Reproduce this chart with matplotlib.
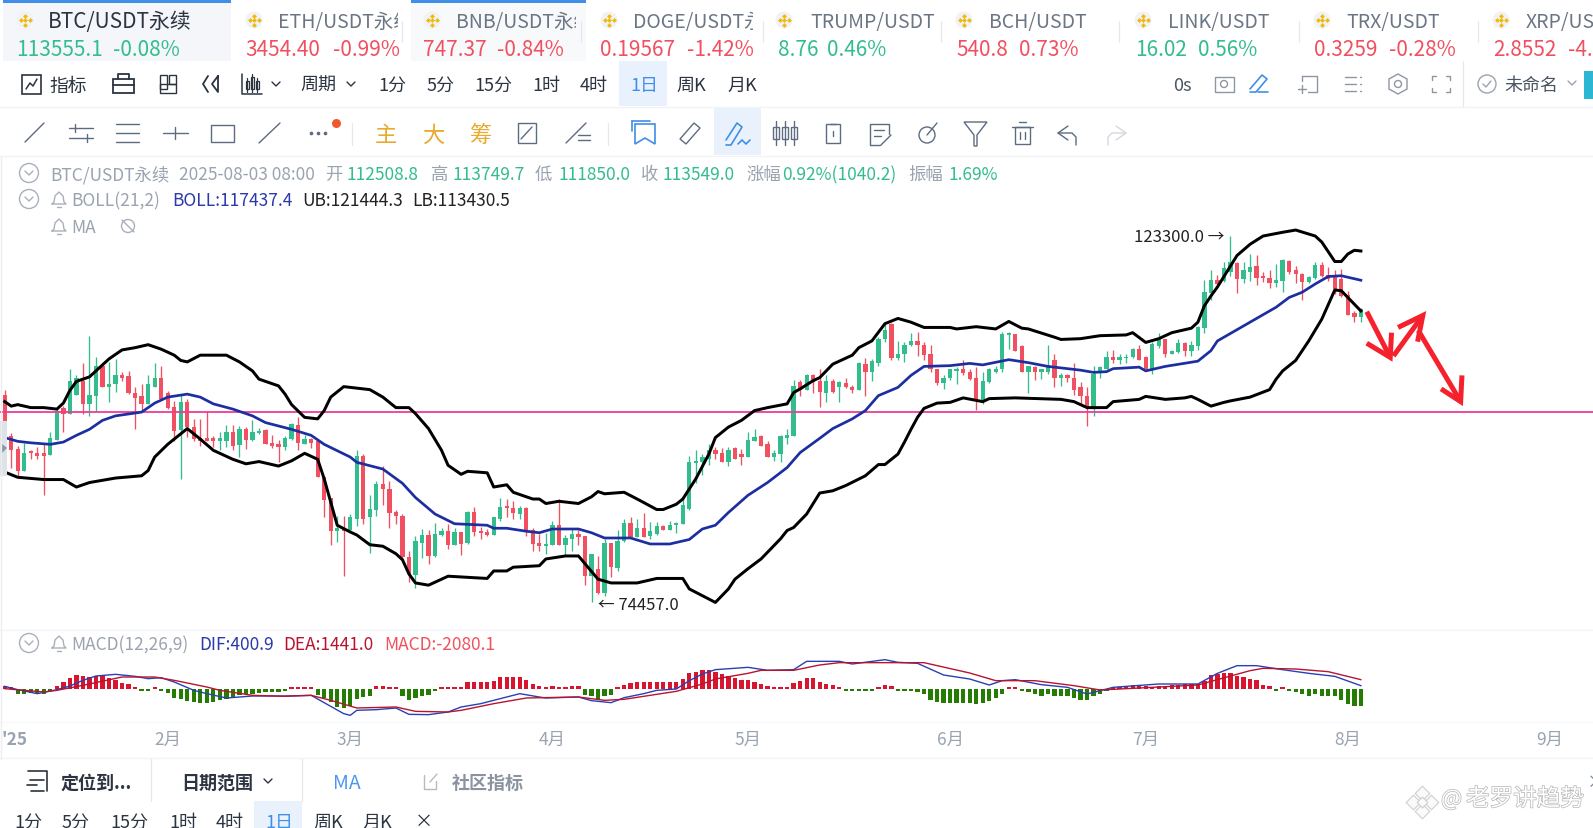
# plot.py
# BTC/USDT daily chart with BOLL and MACD, rebuilt in matplotlib
import matplotlib
matplotlib.use("Agg")
import matplotlib.pyplot as plt
import matplotlib.patheffects as pe
from matplotlib.patches import Rectangle, Circle, Polygon

plt.rcParams['font.family'] = ['Noto Sans CJK SC', 'DejaVu Sans']

# ---- CANDLES (thousand USDT, one per day from 7 Jan) ----
opens = [102.1,96.6,94.9,92.0,94.6,94.4,94.4,94.1,96.1,100.3,
         99.6,102.1,104.0,100.9,102.0,106.0,103.2,103.5,104.8,104.6,
         102.4,101.9,100.9,103.2,104.4,102.3,100.5,97.4,101.1,97.8,
         96.3,96.3,96.4,96.0,96.0,97.2,95.4,97.6,96.1,97.0,
         97.4,95.7,95.5,95.1,96.2,98.1,95.6,96.2,96.0,91.1,
         88.3,83.9,84.3,84.0,85.5,94.0,85.8,86.8,90.2,89.6,
         86.5,85.9,80.4,78.1,82.3,83.4,80.6,83.4,83.9,82.0,
         83.8,82.3,86.5,83.9,83.8,83.4,85.6,87.3,87.0,86.2,
         87.0,84.1,82.3,81.9,82.0,84.7,82.0,82.8,83.5,83.3,
         77.9,78.8,75.7,82.3,79.0,82.6,85.0,83.1,84.3,83.2,
         83.5,84.6,84.0,84.7,84.8,86.9,93.0,93.2,93.6,94.7,
         94.4,93.2,95.0,94.2,93.8,96.0,96.6,95.5,93.8,94.2,
         96.4,96.6,103.8,102.7,104.7,103.9,102.4,104.0,103.1,103.7,
         103.2,102.7,106.2,105.2,106.4,109.5,111.6,107.0,107.6,108.7,
         109.3,108.8,107.6,105.5,103.7,104.3,105.3,105.6,105.2,104.4,
         101.3,103.8,105.2,105.5,110.1,110.2,108.6,105.2,105.8,105.1,
         105.2,106.7,104.3,104.7,104.4,103.1,101.9,100.4,105.3,105.6,
         107.2,106.7,107.0,107.1,108.2,107.1,105.6,108.6,109.5,107.6,
         107.8,109.0,108.0,108.6,111.0,115.7,117.4,117.3,118.5,119.7,
         117.5,118.5,119.3,118.0,117.7,117.0,117.3,120.0,118.7,118.2,
         117.2,117.7,119.4,118.1,117.8,117.6,115.4,113.0,112.5]
closes = [96.7,94.7,92.0,94.4,94.3,94.0,94.0,96.3,99.9,99.5,
          103.9,104.4,100.9,102.1,106.0,103.2,103.6,104.7,104.3,102.4,
          101.7,100.9,103.5,104.4,101.5,100.3,97.3,101.1,97.8,96.2,
          96.0,96.0,96.0,96.4,97.2,95.3,97.6,96.1,97.1,97.3,
          95.6,95.3,95.1,96.3,98.2,95.7,96.2,95.7,91.1,88.1,
          83.9,84.3,83.9,85.8,94.0,85.5,86.9,90.2,89.5,86.3,
          85.9,80.4,78.2,82.6,83.4,80.6,83.5,83.9,82.0,83.8,
          82.2,86.5,83.8,83.6,83.4,85.8,87.1,87.0,86.3,87.0,
          84.0,82.2,81.9,82.2,84.7,82.0,83.0,83.5,83.1,77.9,
          80.9,75.7,82.3,79.1,82.6,85.0,83.1,84.3,83.1,83.9,
          84.6,84.0,84.7,85.0,87.4,93.2,93.3,93.8,94.8,94.2,
          93.2,94.8,93.6,93.8,96.1,96.5,95.3,93.8,94.3,96.6,
          96.7,103.3,102.8,104.7,103.8,102.5,103.9,102.5,103.8,103.1,
          102.7,106.4,105.2,106.6,109.6,110.7,107.0,107.6,108.8,109.3,
          108.7,107.4,105.6,103.7,104.4,105.5,105.6,105.0,104.2,101.3,
          104.0,105.6,105.6,110.2,110.4,108.0,105.2,105.9,105.1,105.5,
          106.0,104.3,104.7,104.3,102.8,102.0,100.4,104.9,105.8,107.2,
          106.7,107.1,107.2,108.2,106.8,105.5,108.9,109.5,107.6,107.9,
          109.0,107.9,108.8,111.1,115.8,117.4,116.9,119.0,119.8,117.5,
          118.7,119.2,117.7,117.7,117.0,117.4,120.1,118.5,118.2,117.2,
          117.8,119.4,117.9,117.6,116.2,115.3,112.8,112.5,113.5]
highs = [102.7,97.0,95.3,95.7,94.8,95.2,95.5,97.1,100.3,100.6,
         105.6,104.8,106.3,109.9,107.1,106.2,106.5,106.9,105.1,105.3,
         103.1,103.6,104.7,106.3,105.9,102.6,101.3,102.2,101.5,98.9,
         98.9,99.9,96.6,97.1,98.1,98.1,97.9,97.8,98.7,97.7,
         97.5,96.7,96.1,96.6,98.4,99.2,96.7,96.4,96.2,91.2,
         88.4,86.0,86.0,86.2,94.8,94.2,88.7,90.6,92.6,90.6,
         86.7,86.2,81.3,83.3,84.2,84.0,85.0,84.3,84.9,84.3,
         83.8,86.6,87.2,84.4,84.2,85.8,88.4,88.2,88.0,87.3,
         87.1,84.3,83.5,83.7,85.3,88.2,83.4,84.3,84.0,83.3,
         80.9,80.6,82.8,82.3,84.0,85.5,85.8,85.5,86.3,85.2,
         85.1,84.7,85.3,85.1,88.4,94.0,94.7,94.2,95.5,95.1,
         95.0,95.2,95.2,94.9,97.2,97.6,96.7,96.0,94.7,96.7,
         97.6,104.1,104.1,104.9,104.9,105.6,104.7,104.2,104.0,104.3,
         103.4,106.5,107.0,106.9,109.8,111.8,111.7,109.3,109.2,110.4,
         110.5,109.1,108.8,105.6,104.7,105.6,105.8,106.7,105.6,105.8,
         105.1,105.7,106.0,110.5,110.5,110.2,108.7,105.9,105.9,105.6,
         108.7,107.6,105.0,104.9,106.4,103.8,103.1,105.9,106.0,108.0,
         108.1,107.6,107.6,108.4,108.7,107.3,109.2,110.4,109.6,108.1,
         109.5,109.2,109.3,111.3,117.4,118.8,118.1,119.8,123.3,119.8,
         119.8,120.9,120.8,118.5,118.8,119.6,120.3,120.1,119.3,118.3,
         118.0,119.8,119.8,119.1,118.8,118.9,116.0,113.3,113.7]
lows = [96.5,92.3,91.3,92.0,93.6,93.5,88.7,94.1,96.1,97.1,
        99.6,102.1,99.6,99.3,100.0,103.1,101.1,102.5,103.9,102.2,
        97.5,99.8,100.9,103.1,101.5,100.2,96.0,90.9,96.5,95.9,
        95.3,95.9,95.1,94.7,95.1,94.7,93.8,94.9,96.0,96.9,
        95.5,95.0,93.1,94.8,96.1,94.7,95.5,95.0,91.1,85.8,
        82.0,82.4,77.9,83.9,84.6,84.9,81.0,86.0,87.4,84.3,
        84.9,80.2,77.1,76.3,80.3,79.5,80.4,83.3,81.5,82.0,
        80.7,82.2,83.3,82.9,83.2,83.4,85.3,85.8,85.5,85.5,
        83.3,81.3,81.2,80.9,82.0,82.0,80.7,81.3,82.0,76.7,
        74.457,75.5,75.3,77.8,78.6,82.5,83.1,83.1,83.1,82.8,
        83.4,84.0,84.0,83.7,84.8,86.8,90.4,91.4,92.7,93.6,
        93.2,92.6,93.5,92.7,93.8,95.9,95.3,93.8,93.3,93.1,
        95.5,96.6,102.0,102.7,102.4,100.5,101.1,102.4,101.2,103.0,
        102.3,102.7,101.9,104.0,105.9,109.2,106.7,106.8,106.5,108.6,
        107.3,106.7,105.1,103.4,102.9,104.1,103.6,104.8,104.1,100.1,
        100.9,103.7,105.0,105.2,108.2,108.0,105.2,102.4,104.1,104.2,
        104.9,103.1,103.3,103.8,102.1,100.9,98.0,99.3,104.4,105.6,
        106.4,106.2,106.4,107.0,106.7,105.5,104.9,108.4,107.1,107.6,
        107.7,107.3,107.3,108.1,110.3,114.7,116.8,117.2,118.0,115.7,
        117.0,117.3,116.8,117.2,116.4,116.5,115.8,118.2,117.0,114.7,
        117.0,117.6,117.8,117.3,115.6,115.1,112.7,111.8,111.85]

# ---- BOLL BANDS (read at these candle numbers) ----
upper_idx = [0,1,2,4,6,8,9,10,11,13,15,16,18,20,22,24,26,27,28,30,34,36,38,39,42,43,44,46,48,49,
             50,52,53,56,58,60,62,63,65,67,68,70,71,74,75,77,78,81,82,83,85,88,90,91,92,95,97,100,101,103,
             104,106,108,109,111,113,115,117,120,121,122,124,125,127,130,131,133,135,137,139,141,145,146,149,152,154,156,157,161,162,
             165,168,172,173,175,177,179,182,183,184,185,186,188,189,191,193,196,198,201,202,204,205,206,207,208]
upper_vals = [101.2,100.6,100.8,100.4,100.4,100.2,101.0,102.7,103.9,104.5,106.1,106.9,108.1,108.4,108.8,108.2,107.4,106.7,106.5,107.4,107.4,106.5,105.3,104.2,103.3,102.2,100.8,99.1,98.9,100.0,
              101.8,103.2,103.1,102.8,101.8,100.4,100.4,99.6,97.6,94.7,92.7,91.5,91.9,91.7,89.8,90.1,89.1,88.2,88.2,87.6,87.9,87.6,88.5,89.2,88.9,89.1,88.2,86.8,86.8,87.5,
              88.2,90.9,94.2,96.4,97.8,98.7,100.0,100.4,100.9,102.4,102.9,104.0,104.4,106.2,107.4,108.4,109.3,111.6,112.3,111.8,111.1,111.1,110.9,111.2,110.9,111.9,111.0,110.9,109.8,109.5,
              109.6,110.0,110.1,110.4,109.1,109.6,110.4,111.0,111.8,114.0,115.3,116.5,119.3,120.7,122.2,123.3,123.8,124.1,123.3,122.5,119.9,119.9,120.9,121.4,121.3]
mid_idx = [0,2,4,7,9,11,13,15,17,21,23,25,28,30,32,35,38,40,44,47,49,53,54,58,61,63,66,69,74,75,
           77,80,82,84,88,90,92,96,99,102,105,107,109,111,114,117,120,122,125,127,130,132,134,137,139,141,145,148,150,154,
           157,160,165,167,169,170,174,175,178,183,185,186,191,195,197,199,201,203,205,208]
mid_vals = [96.4,95.9,95.7,95.5,95.8,96.7,97.5,98.7,99.3,99.8,101.0,101.8,102.2,101.8,100.9,100.2,99.3,98.4,97.5,96.7,95.5,93.8,93.1,92.2,90.3,88.4,86.2,84.9,84.7,84.3,
            84.3,83.9,83.7,84.2,84.2,83.7,83.0,83.0,82.2,82.2,82.8,84.2,84.7,86.4,88.7,90.4,92.4,94.4,96.3,97.6,98.9,100.0,102.0,103.1,104.7,105.9,106.0,106.3,106.1,106.8,
            106.4,105.9,105.4,105.1,105.2,105.6,105.8,105.3,105.9,106.6,108.0,109.3,111.8,113.8,115.1,115.8,116.9,117.9,118.0,117.4]
lower_idx = [0,2,6,9,11,13,17,21,22,23,25,28,30,32,35,37,39,42,44,46,48,49,51,53,54,56,58,60,61,62,
             63,65,68,74,75,77,78,82,83,86,88,91,93,97,100,104,105,109,111,112,114,116,119,120,121,123,125,127,129,132,
             134,135,137,138,139,140,141,143,145,147,150,151,155,162,164,166,169,170,174,175,178,181,182,183,185,187,188,191,194,195,
             196,198,200,202,204,205,208]
lower_vals = [91.8,91.1,90.8,90.8,89.8,90.4,91.0,91.3,92.0,93.8,95.5,97.6,96.2,94.7,93.5,92.9,93.2,92.6,93.3,94.3,93.5,90.9,84.7,83.8,83.4,82.1,81.9,80.9,80.1,78.2,
              77.0,76.7,77.9,77.6,78.6,78.6,79.1,79.3,80.2,80.6,80.6,77.5,77.0,77.0,77.6,77.6,76.2,74.4,76.2,77.5,78.9,80.2,82.9,84.0,84.4,86.2,89.0,89.3,90.0,91.3,
              92.8,92.8,94.2,95.8,97.5,99.1,100.3,101.0,101.1,101.7,101.2,101.6,101.7,101.5,101.2,100.4,100.4,101.2,101.5,101.9,101.5,101.7,101.9,101.5,100.6,101.1,101.3,101.8,102.8,104.2,
              105.3,106.7,109.3,112.2,116.1,116.0,113.3]

# ---- MACD ----
macd_hist = [320,240,-600,-600,-520,-480,-560,-280,320,800,
             1280,1680,1520,1400,1520,1520,1320,1120,720,560,
             240,-240,-240,240,-240,-480,-1120,-1200,-1400,-1600,
             -1680,-1680,-1520,-1280,-1200,-1000,-720,-600,-560,-480,
             -400,-400,-360,-280,240,240,240,240,-720,-1120,
             -1520,-2200,-2320,-2000,-1200,-1000,-880,320,400,240,
             240,-880,-1320,-1040,-880,-720,-240,240,280,240,
             240,880,880,880,880,1000,1400,1400,1400,1400,
             1120,600,320,240,320,240,240,320,320,-720,
             -880,-1200,-800,-720,240,480,720,880,880,880,
             880,880,880,880,1200,1920,2080,2320,2320,2000,
             1800,1520,1320,1120,1040,880,640,320,240,240,
             240,720,960,1280,1280,880,640,480,240,-240,
             -280,-240,-240,-240,240,440,320,-240,-240,-280,
             -360,-640,-1280,-1600,-1680,-1680,-1680,-1680,-1680,-1840,
             -1680,-1440,-1120,-560,240,240,-240,-320,-560,-800,
             -640,-880,-880,-880,-1120,-1280,-1360,-880,-560,-240,
             280,280,320,480,480,400,240,320,320,480,
             480,560,560,640,1000,1680,1840,1920,1920,1600,
             1440,1200,1040,480,320,-240,240,-240,-400,-560,
             -800,-640,-800,-880,-880,-1280,-1800,-2000,-2080]
dif_idx = [0,2,5,8,10,12,14,17,20,22,24,26,29,31,34,38,43,47,49,52,53,54,57,60,62,65,68,70,73,76,
           79,82,83,88,90,93,95,98,100,103,105,107,109,114,117,121,123,128,130,135,137,140,144,148,151,
           153,155,159,163,166,170,177,183,186,189,192,196,200,204,208]
dif_vals = [320,-80,-560,-80,360,1040,1560,1760,1520,1240,1360,840,-160,-560,-1080,-840,-840,-760,-1640,-2960,
            -3160,-2560,-2480,-2280,-3040,-3080,-2760,-2160,-1760,-1160,-560,-960,-1080,-960,-1400,-1640,-1040,-560,-160,0,
            1000,1800,2320,2600,2240,2320,3320,3320,3000,3520,3200,3080,1680,1200,480,1000,1120,520,200,-600,
            200,600,600,1880,2800,2800,2320,1880,1520,400]
dea_idx = [0,6,8,12,18,23,26,31,33,38,43,47,50,54,60,63,68,70,75,80,88,92,95,100,103,107,109,114,116,121,
           125,128,141,148,152,158,164,168,173,183,191,193,198,203,208]
dea_vals = [40,-360,-160,440,1440,1440,1040,240,-160,-760,-880,-760,-1360,-2280,-2160,-2680,-2760,-2560,-1760,-1080,
            -960,-1360,-1240,-640,-280,600,1200,1880,2240,2240,2880,3160,3160,1920,1000,1000,400,-120,80,480,
            2200,2480,2400,2080,1120]

# ---- AXIS LABELS AND LEVELS ----
month_idx = [1.5, 25, 53, 84, 114, 145, 175, 206, 237]
month_labels = ["'25", "2月", "3月", "4月", "5月", "6月", "7月", "8月", "9月"]
level_price = 99.85
peak_idx, peak_price = 188, 123.3
trough_idx, trough_price = 90, 74.457

# hand drawn forecast arrows: start, tip, two wings (candle number, price)
arrow_x = [[208.9, 212.5, 208.9, 212.7], [213.0, 217.5, 213.7, 216.7], [216.8, 223.3, 220.3, 223.5]]
arrow_y = [[113.2, 107.1, 109.0, 110.4], [107.3, 112.7, 111.1, 109.2], [110.7, 101.2, 102.9, 104.7]]

# ---- TICKER STRIP ----
ticker_names = ["BTC/USDT永续", "ETH/USDT永续", "BNB/USDT永续", "DOGE/USDT永续", "TRUMP/USDT",
                "BCH/USDT", "LINK/USDT", "TRX/USDT", "XRP/USDT"]
ticker_prices = ["113555.1", "3454.40", "747.37", "0.19567", "8.76", "540.8", "16.02", "0.3259", "2.8552"]
ticker_changes = ["-0.08%", "-0.99%", "-0.84%", "-1.42%", "0.46%", "0.73%", "0.56%", "-0.28%", "-4.04%"]
ticker_up = [True, False, False, False, True, False, True, False, False]
name_x = [48, 278, 456, 633, 810, 989, 1168, 1346, 1526]
clip_x = [231, 398, 576, 753, 940, 1100, 1280, 1460, 1593]
icon_x = [25, 254, 432, 609, 784, 964, 1143, 1322, 1501]
price_x = [16, 245, 423, 600, 778, 956, 1135, 1314, 1493]
change_x = [113, 333, 497, 687, 827, 1019, 1198, 1389, 1568]

# ---- COLOURS ----
UP = "#33bd8d"
DOWN = "#f0505f"
GREY = "#9aa3b0"
DARK = "#2b3440"
ICON = "#5c6b80"
BLUE = "#3f8fe8"
PALE = "#e9f2fc"
RULE = "#f2f3f7"
NAVY = "#1c2ea0"

W, H = 1593, 829
fig = plt.figure(figsize=(W / 100, H / 100), dpi=100, facecolor="white")

# ---- MAIN PANE ----
x0, x1 = -0.72, 243.6
ax = fig.add_axes([0, (H - 628) / H, 1, (628 - 215) / H], zorder=2)
ax.set_xlim(x0, x1)
ax.set_ylim(71.12, 126.24)
ax.axis("off")

days = list(range(len(opens)))
colors = [UP if c >= o else DOWN for o, c in zip(opens, closes)]
ax.vlines(days, lows, highs, colors=colors, linewidth=0.95, zorder=2)
ax.bar(days, [abs(c - o) for o, c in zip(opens, closes)],
       bottom=[min(o, c) for o, c in zip(opens, closes)],
       width=0.66, color=colors, linewidth=0, zorder=3)

ax.axhline(level_price, color="#ea3d9b", linewidth=1.3, zorder=4)
ax.plot(upper_idx, upper_vals, color="black", linewidth=2.15, solid_joinstyle="round", zorder=5)
ax.plot(lower_idx, lower_vals, color="black", linewidth=2.15, solid_joinstyle="round", zorder=5)
ax.plot(mid_idx, mid_vals, color=NAVY, linewidth=1.95, solid_joinstyle="round", zorder=6)

for xs, ys in zip(arrow_x, arrow_y):
    ax.plot(xs[:2], ys[:2], color="#f5222d", linewidth=3.6, solid_capstyle="butt", zorder=7)
    ax.plot([xs[2], xs[1], xs[3]], [ys[2], ys[1], ys[3]], color="#f5222d", linewidth=3.6,
            solid_joinstyle="miter", solid_capstyle="butt", zorder=7)

ax.text(peak_idx - 1.0, peak_price - 0.1, "123300.0 →", ha="right", va="center",
        fontsize=12, color="#222222", zorder=8)
ax.text(trough_idx + 1.0, trough_price - 0.3, "← 74457.0", ha="left", va="center",
        fontsize=12, color="#222222", zorder=8)

# ---- MACD PANE ----
macd = fig.add_axes([0, (H - 724) / H, 1, (724 - 650) / H], zorder=2)
macd.set_xlim(x0, x1)
macd.set_ylim(-4080, 4800)
for side in macd.spines.values():
    side.set_visible(False)
macd.set_yticks([])
macd.patch.set_alpha(0)
macd.bar(days, macd_hist, width=0.66, linewidth=0,
         color=["#d9142e" if v >= 0 else "#267c02" for v in macd_hist], zorder=2)
macd.plot(dif_idx, dif_vals, color="#2940b5", linewidth=1.0, zorder=3)
macd.plot(dea_idx, dea_vals, color="#b8142f", linewidth=1.0, zorder=4)
macd.set_xticks(month_idx)
macd.set_xticklabels(month_labels, fontsize=12.5, color=GREY)
macd.tick_params(axis="x", length=0, pad=5)
macd.get_xticklabels()[0].set_fontweight("bold")

# ---- INTERFACE OVERLAY (pixel coordinates) ----
ui = fig.add_axes([0, 0, 1, 1], zorder=5)
ui.set_xlim(0, W)
ui.set_ylim(H, 0)
ui.axis("off")
ui.patch.set_alpha(0)


def txt(x, y, s, color=DARK, size=13, weight="normal", ha="left", clip=None):
    t = ui.text(x, y + 1.2, s, color=color, fontsize=size, fontweight=weight, ha=ha, va="center")
    if clip is not None:
        r = Rectangle((0, 0), clip, H, transform=ui.transData)
        t.set_clip_path(r)
        t.set_clip_on(True)
    return t


def rect(x, y, w, h, color, zorder=0):
    ui.add_patch(Rectangle((x, y), w, h, facecolor=color, edgecolor="none", zorder=zorder))


def box(x, y, w, h, color=ICON, lw=1.0):
    ui.add_patch(Rectangle((x, y), w, h, facecolor="none", edgecolor=color, linewidth=lw))


def ln(xs, ys, color=ICON, lw=1.0):
    ui.plot(xs, ys, color=color, linewidth=lw, solid_capstyle="round")


def chevron(x, y, color=ICON, lw=1.0):
    ln([x - 4, x, x + 4], [y - 2, y + 2, y - 2], color, lw)


def circle_chev(x, y):
    ui.add_patch(Circle((x, y), 9.5, facecolor="none", edgecolor="#a9b0bb", linewidth=1.0))
    chevron(x, y, "#a9b0bb")


def bell(x, y):
    ln([x - 7, x - 5, x - 4, x, x + 4, x + 5, x + 7, x - 7],
       [y + 5, y + 3, y - 3, y - 7, y - 3, y + 3, y + 5, y + 5], "#a9b0bb")
    ln([x - 2, x + 2], [y + 8, y + 8], "#a9b0bb")


# backgrounds and rules
rect(3, 3, 228, 59, "#f4f6fa")
rect(411, 3, 175, 59, "#f8f9fb")
rect(3, 1, 228, 2.5, BLUE, 1)
rect(411, 1, 175, 2.5, BLUE, 1)
rect(619, 62, 48, 45, PALE)
rect(714, 109, 47, 47, PALE)
rect(254, 802, 48, 27, PALE)
for y in [108, 157, 631, 759]:
    ln([0, W], [y, y], RULE, 1.0)
ln([0, W], [723, 723], "#f8f9fb", 1.0)
ln([0.5, 0.5], [157, 760], "#eceef2", 1.0)
for x, a, b in [(151, 760, 802), (302, 760, 802), (1463, 62, 107), (352, 124, 146), (608, 124, 146)]:
    ln([x, x], [a, b], "#e6e8ec", 0.9)
for x in [402, 581, 763, 941, 1119, 1299, 1478]:
    ln([x, x], [22, 43], "#e6e8ec", 0.9)
rect(0, 422, 7, 55, "#dfe2e7")
ui.add_patch(Polygon([(2, 445), (7, 449), (2, 454)], facecolor="#8d95a1", edgecolor="none", zorder=1))

# ticker strip
for i, name in enumerate(ticker_names):
    ui.add_patch(Circle((icon_x[i], 21), 8.5, facecolor="#f1f2f4", edgecolor="none", zorder=1))
    for dx, dy in [(0, -4.5), (-4.5, 0), (4.5, 0), (0, 4.5), (0, 0)]:
        ui.scatter(icon_x[i] + dx, 21 + dy, s=6, marker="D", color="#f0b90b", linewidths=0, zorder=2)
    txt(name_x[i], 21, name, DARK if i == 0 else "#6b7685", 15 if i == 0 else 14, clip=clip_x[i])
    c = UP if ticker_up[i] else DOWN
    txt(price_x[i], 49, ticker_prices[i], c, 15)
    txt(change_x[i], 49, ticker_changes[i], c, 15)

# first toolbar
box(22, 76, 19, 19, DARK, 1.2)
ln([26, 30, 33, 37], [90, 84, 87, 80], DARK, 1.1)
txt(49, 85, "指标", DARK, 13.5)
box(113, 80, 21, 14, DARK, 1.3)
ln([113, 134], [86, 86], DARK, 1.3)
ln([118, 118, 129, 129], [80, 75, 75, 80], DARK, 1.3)
box(160, 76, 7, 14, DARK)
box(169, 76, 7, 9, DARK)
box(160, 85, 16, 9, DARK)
ln([208, 203, 208], [77, 85, 93], DARK, 1.3)
ln([218, 212, 218, 218], [77, 85, 93, 77], DARK, 1.3)
ln([242, 242, 262], [75, 95, 95], DARK, 1.1)
for x, a, b in [(247, 82, 90), (252, 78, 90), (257, 82, 90)]:
    box(x - 1.5, a, 3, b - a, DARK, 0.9)
    ln([x, x], [a - 3, b + 3], DARK, 0.9)
chevron(276, 85, DARK)
txt(300, 85, "周期", DARK, 13)
chevron(351, 85, DARK)
for x, s in zip([378, 427, 474, 532, 580, 676, 727], ["1分", "5分", "15分", "1时", "4时", "周K", "月K"]):
    txt(x, 85, s, DARK, 13)
txt(630, 85, "1日", BLUE, 13)
txt(1173, 85, "0s", "#4a5564", 13)
box(1215, 78, 19, 15, "#8e96a2")
ui.add_patch(Circle((1224, 85), 3.5, facecolor="none", edgecolor="#8e96a2", linewidth=1.0))
ln([1250, 1262, 1267, 1256, 1250], [90, 76, 80, 93, 93], BLUE, 1.2)
ln([1258, 1268], [93, 93], BLUE, 1.2)
ln([1302, 1317, 1317, 1308], [77, 77, 93, 93], "#8e96a2", 1.0)
ln([1302, 1302], [77, 82], "#8e96a2", 1.0)
ln([1298, 1306], [90, 90], "#8e96a2", 1.0)
ln([1302, 1302], [86, 94], "#8e96a2", 1.0)
for y in [78, 85, 92]:
    ln([1345, 1356], [y, y], "#8e96a2", 1.0)
    ln([1360, 1361], [y, y], "#8e96a2", 1.0)
ui.add_patch(Polygon([(1398, 75), (1407, 80), (1407, 90), (1398, 95), (1389, 90), (1389, 80)],
                     facecolor="none", edgecolor="#8e96a2", linewidth=1.0))
ui.add_patch(Circle((1398, 85), 3.5, facecolor="none", edgecolor="#8e96a2", linewidth=1.0))
for sx, sy in [(-1, -1), (1, -1), (-1, 1), (1, 1)]:
    cx, cy = 1441 + sx * 9, 85 + sy * 8
    ln([cx, cx, cx - sx * 4], [cy - sy * 4, cy, cy], "#8e96a2", 1.0)
ui.add_patch(Circle((1487, 85), 9, facecolor="none", edgecolor="#9aa3b0", linewidth=1.0))
ln([1483, 1486, 1491], [85, 88, 82], "#9aa3b0", 1.0)
txt(1504, 85, "未命名", "#4a5564", 13)
chevron(1572, 84, "#9aa3b0")
ui.add_patch(Rectangle((1584, 72), 9, 28, facecolor="#2bb7d4", edgecolor="none"))

# second toolbar
ln([25, 44], [143, 124])
ln([81 - 12, 81 + 12], [129, 129]); ln([81 - 12, 81 + 12], [139, 139]); ln([75, 75], [125, 133]); ln([87, 87], [135, 143])
ln([116, 139], [125, 125]); ln([116, 139], [134, 134]); ln([116, 139], [143, 143])
ln([163, 188], [134, 134]); ln([175, 175], [128, 140])
box(211, 126, 23, 17)
ln([259, 280], [144, 124])
for x in [311, 318, 325]:
    ui.scatter(x, 134, s=7, color=ICON, linewidths=0)
ui.scatter(336, 124, s=42, color="#f0572d", linewidths=0)
for x, s in zip([386, 433, 480], ["主", "大", "筹"]):
    txt(x, 134, s, "#e8a92c", 16, ha="center")
box(518, 124, 18, 20)
ln([521, 532], [140, 128])
ln([566, 586], [144, 124])
ln([578, 590], [136, 136]); ln([578, 590], [141, 141])
ui.add_patch(Polygon([(635, 125), (655, 125), (655, 145), (645, 139), (635, 145)],
                     facecolor="none", edgecolor=BLUE, linewidth=1.2))
ln([632, 632], [122, 132], BLUE, 1.2); ln([632, 650], [122, 122], BLUE, 1.2)
ui.add_patch(Polygon([(680, 140), (694, 124), (700, 129), (686, 145)], facecolor="none", edgecolor=ICON, linewidth=1.0))
ln([726, 737, 742, 731, 726], [141, 124, 128, 146, 146], BLUE, 1.2)
ln([738, 742, 746, 750], [145, 141, 145, 141], BLUE, 1.2)
for x in [776, 785, 794]:
    box(x - 3, 128, 6, 12)
    ln([x, x], [122, 146])
box(826, 125, 14, 19)
ln([830, 836], [125, 125]); ln([833, 833], [132, 137])
ln([870, 870, 889, 889], [146, 125, 125, 135]); ln([870, 880], [146, 146])
ln([874, 884], [131, 131]); ln([874, 881], [137, 137]); ln([881, 891], [146, 136])
ui.add_patch(Circle((927, 136), 8, facecolor="none", edgecolor=ICON, linewidth=1.0))
ln([927, 937], [136, 124])
ui.add_patch(Polygon([(964, 123), (987, 123), (977, 136), (977, 147), (974, 147), (974, 136)],
                     facecolor="none", edgecolor=ICON, linewidth=1.0))
box(1015, 128, 15, 17)
ln([1012, 1033], [128, 128]); ln([1019, 1026], [123, 123])
ln([1020, 1020], [133, 140]); ln([1025, 1025], [133, 140])
ln([1068, 1058, 1068], [127, 134, 141]); ln([1058, 1072, 1076, 1076], [134, 134, 138, 146])
ln([1116, 1126, 1116], [127, 134, 141], "#d5d8dd"); ln([1126, 1112, 1108, 1108], [134, 134, 138, 146], "#d5d8dd")

# info lines
circle_chev(29, 174)
txt(50, 174, "BTC/USDT永续", GREY, 12.5)
txt(179, 174, "2025-08-03 08:00", GREY, 12.5)
for x, s in zip([325, 431, 535, 641, 746, 908], ["开", "高", "低", "收", "涨幅", "振幅"]):
    txt(x, 174, s, GREY, 12.5)
for x, s in zip([347, 453, 558, 663, 782, 949],
                ["112508.8", "113749.7", "111850.0", "113549.0", "0.92%(1040.2)", "1.69%"]):
    txt(x, 174, s, UP, 12.5)
circle_chev(29, 200)
bell(59, 200)
txt(71, 200, "BOLL(21,2)", GREY, 12.5)
txt(172, 200, "BOLL:117437.4", "#2b3aa8", 12.5)
txt(302, 200, "UB:121444.3", "#222222", 12.5)
txt(412, 200, "LB:113430.5", "#222222", 12.5)
bell(59, 227)
txt(71, 227, "MA", GREY, 12.5)
ui.add_patch(Circle((128, 227), 6.5, facecolor="none", edgecolor="#a9b0bb", linewidth=1.0))
ln([122, 134], [221, 233], "#a9b0bb")
circle_chev(29, 644)
bell(59, 644)
txt(71, 644, "MACD(12,26,9)", GREY, 12.5)
txt(199, 644, "DIF:400.9", "#2b3aa8", 12.5)
txt(283, 644, "DEA:1441.0", "#b8142f", 12.5)
txt(384, 644, "MACD:-2080.1", "#f0525f", 12.5)

# bottom bars
ln([28, 47, 47], [772, 772, 792], DARK, 1.2)
ln([30, 44], [781, 781], DARK, 1.2)
ln([27, 37], [786, 786], DARK, 1.2)
ln([31, 44], [792, 792], DARK, 1.2)
txt(61, 782, "定位到...", DARK, 13, "bold")
txt(181, 782, "日期范围", DARK, 13, "bold")
chevron(268, 782, DARK)
txt(333, 782, "MA", "#4b96ee", 14)
ln([424, 424, 436, 436], [776, 790, 790, 782], "#b5bbc4")
ln([430, 437], [783, 775], "#b5bbc4")
txt(452, 782, "社区指标", "#8a93a0", 13, "bold")
for x, s in zip([14, 62, 110, 169, 216, 313, 362], ["1分", "5分", "15分", "1时", "4时", "周K", "月K"]):
    txt(x, 822, s, DARK, 13)
txt(265, 822, "1日", BLUE, 13)
txt(424, 821, "×", DARK, 13, ha="center")

# watermark
for dx, dy, s in [(0, -9, 55), (-9, 0, 55), (9, 0, 55), (0, 9, 55), (0, 0, 30)]:
    ui.scatter(1422 + dx, 803 + dy, s=s, marker="D", facecolors="#fafafa", edgecolors="#cfcfcf",
               linewidths=0.8, zorder=6)
emboss = [pe.withStroke(linewidth=1.0, foreground="#b5b5b5")]
txt(1441, 799, "@", "#ffffff", 16).set_path_effects(emboss)
txt(1466, 799, "老罗讲趋势", "#ffffff", 17).set_path_effects(emboss)
txt(1587, 782, "×", "#7f8894", 13)

fig.savefig("out.png", dpi=100, facecolor="white")
print("Chart saved: out.png")
